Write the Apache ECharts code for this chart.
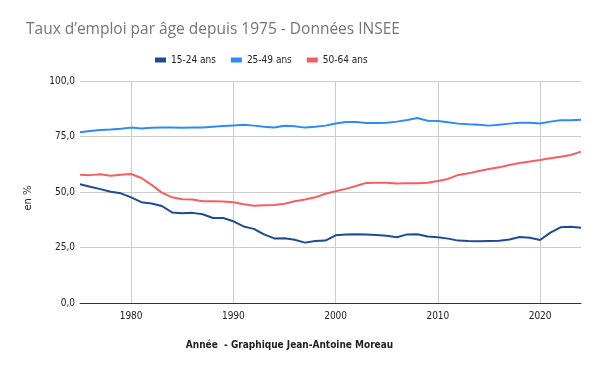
<!DOCTYPE html>
<html><head><meta charset="utf-8">
<script src="https://cdn.jsdelivr.net/npm/echarts@6/dist/echarts.min.js"></script>
<style>html,body{margin:0;padding:0;background:#fff}#c{width:600px;height:371px}</style>
</head><body><div id="c"></div>
<script>
const years = [];
for (let y = 1975; y <= 2024; y++) years.push(String(y));
const s1524 = [53.5,52.4,51.3,50.1,49.4,47.6,45.4,44.8,43.7,40.8,40.4,40.6,40.0,38.3,38.3,36.8,34.5,33.4,30.9,29.1,29.2,28.5,27.2,27.9,28.1,30.5,30.9,31.0,30.9,30.6,30.3,29.6,30.9,31.0,30.0,29.6,29.0,28.1,27.9,27.8,27.9,28.0,28.6,29.7,29.4,28.4,31.7,34.1,34.4,33.9];
const s2549 = [76.9,77.5,77.9,78.1,78.5,79.0,78.6,78.9,79.1,79.0,78.9,79.0,79.0,79.4,79.7,80.0,80.3,79.9,79.4,79.1,79.8,79.6,79.0,79.4,79.9,80.9,81.5,81.5,81.1,81.1,81.2,81.7,82.4,83.3,82.1,82.0,81.4,80.8,80.5,80.3,79.9,80.3,80.8,81.2,81.2,80.9,81.7,82.3,82.3,82.6];
const s5064 = [57.8,57.6,58.0,57.3,57.8,58.1,56.3,53.2,49.7,47.6,46.7,46.6,45.8,45.8,45.7,45.4,44.5,43.8,44.0,44.1,44.7,45.8,46.6,47.6,49.2,50.3,51.4,52.7,54.1,54.2,54.2,53.8,53.9,53.9,54.2,55.0,55.9,57.7,58.4,59.5,60.4,61.1,62.2,63.1,63.7,64.4,65.2,65.9,66.7,68.2];
const seriesNames = ['15-24 ans','25-49 ans','50-64 ans'];
const colors = ['#1f4a98','#2b8cf4','#f65f5f'];
const title = 'Taux d\u2019emploi par âge depuis 1975 - Données INSEE';
const xName = 'Année  - Graphique Jean-Antoine Moreau';
const yName = 'en %';

const chart = echarts.init(document.getElementById('c'));
const isDecade = (i, v) => Number(v) % 10 === 0;
chart.setOption({
  animation: false,
  title: { text: title, left: 21, top: 17, textStyle: { fontFamily: 'Open Sans', fontSize: 15.5, fontWeight: 'normal', color: '#757575' } },
  legend: { top: 50, left: 150, itemWidth: 11, itemHeight: 5, itemGap: 15, icon: 'rect',
    textStyle: { fontFamily: 'DejaVu Sans Condensed', fontSize: 10, color: '#222' } },
  color: colors,
  grid: { left: 80, right: 19, top: 81, bottom: 68 },
  xAxis: {
    type: 'category', data: years, boundaryGap: false,
    name: xName, nameLocation: 'middle', nameGap: 37,
    nameTextStyle: { fontFamily: 'DejaVu Sans Condensed', fontSize: 10, fontWeight: 'bold', color: '#222', padding: [0, 82, 0, 0] },
    axisLine: { lineStyle: { color: '#333', width: 1 } },
    axisTick: { show: false },
    axisLabel: { interval: isDecade, fontFamily: 'DejaVu Sans Condensed', fontSize: 10, color: '#222', margin: 8 },
    splitLine: { show: true, interval: isDecade, lineStyle: { color: '#cccccc' } }
  },
  yAxis: {
    type: 'value', min: 0, max: 100, interval: 25,
    name: yName, nameLocation: 'middle', nameGap: 47,
    nameTextStyle: { fontFamily: 'DejaVu Sans', fontSize: 10, color: '#222', padding: [0, 12, 0, 0] },
    axisLine: { show: false }, axisTick: { show: false },
    axisLabel: { formatter: v => v.toFixed(1).replace('.', ','), fontFamily: 'DejaVu Sans Condensed', fontSize: 10, color: '#222', margin: 5 },
    splitLine: { lineStyle: { color: '#cccccc' } }
  },
  series: [s1524, s2549, s5064].map((d, i) => ({
    name: seriesNames[i], type: 'line', data: d, showSymbol: false, smooth: false,
    lineStyle: { width: 2 }, z: 3 - i
  }))
});
</script></body></html>
